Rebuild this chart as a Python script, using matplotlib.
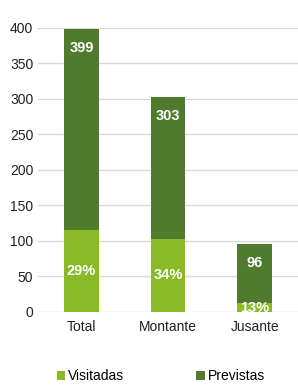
import matplotlib.pyplot as plt

categories = ['Total', 'Montante', 'Jusante']
previstas = [399, 303, 96]
visitadas = [116, 103, 12.5]
pct_labels = ['29%', '34%', '13%']

plt.rcParams['font.family'] = ['Liberation Sans', 'DejaVu Sans']

light = '#8aba28'
dark = '#507b2f'

fig = plt.figure(figsize=(2.98, 3.88), dpi=100)
ax = fig.add_axes([0.128, 0.196, 0.872, 0.732])

x = range(len(categories))
ax.bar(x, previstas, width=0.4, color=dark, label='Previstas', zorder=2)
ax.bar(x, visitadas, width=0.4, color=light, label='Visitadas', zorder=3)

for i in x:
    ax.annotate(str(previstas[i]), (i, previstas[i]), xytext=(0, -14),
                textcoords='offset points', ha='center', va='center',
                color='white', fontsize=10.5, fontweight='bold', zorder=4)
    ax.annotate(pct_labels[i], (i, visitadas[i] / 2), ha='center', va='center',
                color='white', fontsize=10.5, fontweight='bold', zorder=4)

ax.set_ylim(0, 400)
ax.set_xlim(-0.5, 2.5)
ax.set_yticks(range(0, 401, 50))
ax.set_xticks(list(x))
ax.set_xticklabels(categories)
ax.yaxis.grid(True, color='#d9d9d9', linewidth=1)
ax.set_axisbelow(True)
for s in ax.spines.values():
    s.set_visible(False)
ax.tick_params(length=0, labelsize=10, colors='#222222')
ax.tick_params(axis='x', pad=6)

handles, labels = ax.get_legend_handles_labels()
fig.legend(handles[::-1], labels[::-1], loc='lower center', ncol=2,
           bbox_to_anchor=(0.54, -0.02), frameon=False, fontsize=10,
           handlelength=0.6, handleheight=0.6, handletextpad=0.2,
           columnspacing=5.2)

fig.savefig('out.png', dpi=100)
